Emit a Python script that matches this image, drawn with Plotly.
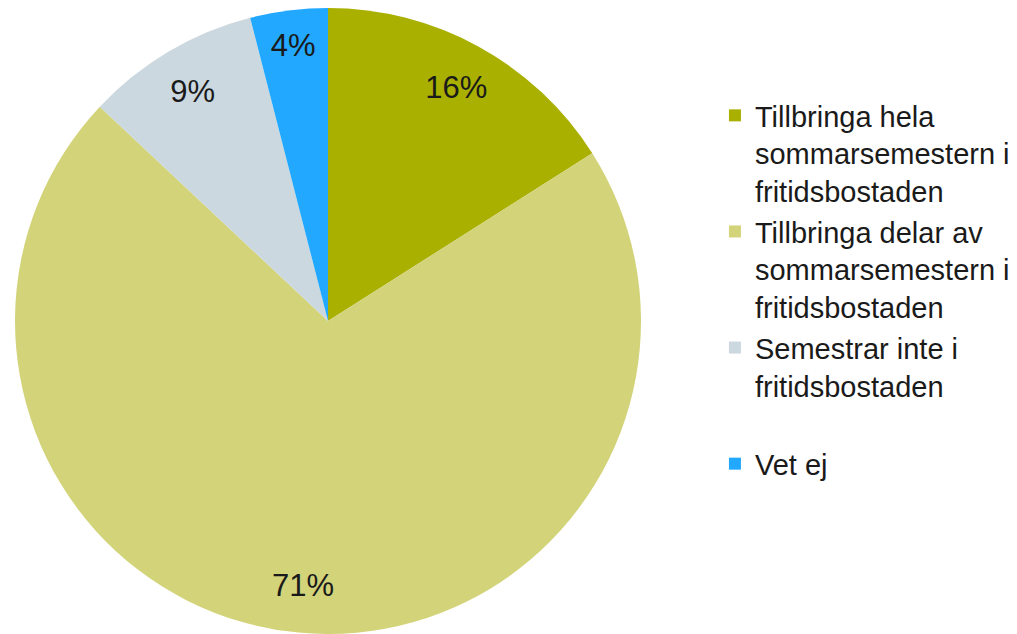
import plotly.graph_objects as go

labels = [
    "Tillbringa hela<br>sommarsemestern i<br>fritidsbostaden",
    "Tillbringa delar av<br>sommarsemestern i<br>fritidsbostaden",
    "Semestrar inte i<br>fritidsbostaden<br> ",
    "Vet ej",
]
values = [16, 71, 9, 4]
colors = ["#A9B000", "#D3D37A", "#CCD8DF", "#22A9FF"]

FONT = "Liberation Sans, Arial, sans-serif"
dom = dict(x=[15/1017, 641/1017], y=[0, 1])

fig = go.Figure()
# colored slices
fig.add_trace(go.Pie(
    labels=labels,
    values=values,
    sort=False,
    direction="clockwise",
    rotation=0,
    marker=dict(colors=colors, line=dict(width=0)),
    textinfo="none",
    domain=dom,
    hoverinfo="label+percent",
))
# transparent ring overlay that carries the percentage labels near the rim
fig.add_trace(go.Pie(
    labels=labels,
    values=values,
    sort=False,
    direction="clockwise",
    rotation=0,
    hole=0.70,
    marker=dict(colors=["rgba(0,0,0,0)"] * len(values), line=dict(width=0)),
    texttemplate="%{percent:.0%}",
    textposition="inside",
    insidetextorientation="horizontal",
    textfont=dict(family=FONT, size=31, color="#1a1a1a"),
    domain=dom,
    showlegend=False,
    hoverinfo="skip",
))

fig.update_layout(
    width=1017, height=634,
    margin=dict(l=0, r=0, t=8, b=0),
    paper_bgcolor="white",
    plot_bgcolor="white",
    showlegend=True,
    legend=dict(
        x=0.703, y=0.869, xanchor="left", yanchor="top",
        valign="top",
        font=dict(family=FONT, size=29, color="#1a1a1a"),
        itemwidth=30,
        tracegroupgap=0,
    ),
)

fig.write_html("out.html", config={"displayModeBar": False},
               post_script="document.body.style.margin='0px';")
